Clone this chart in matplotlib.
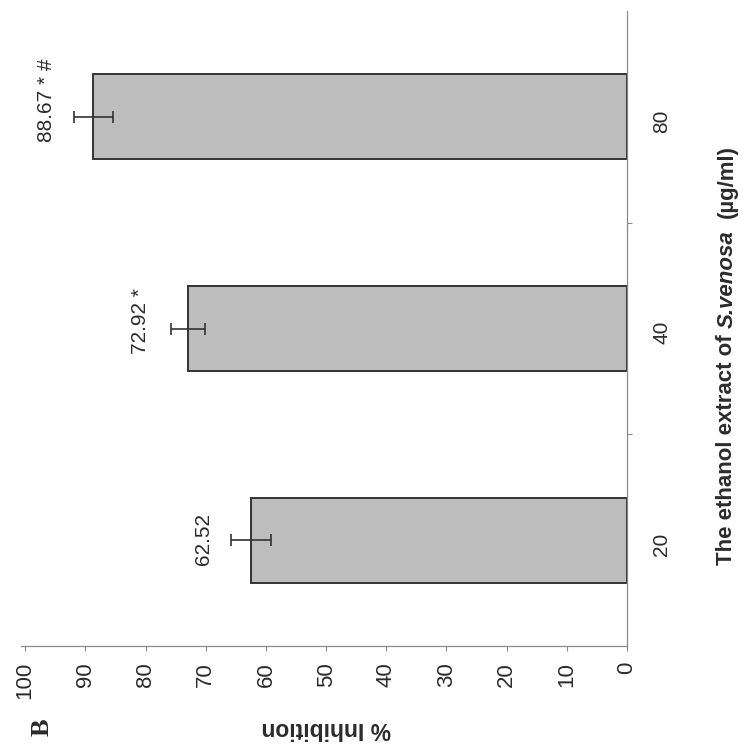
import numpy as np
import matplotlib
matplotlib.use("Agg")
import matplotlib.pyplot as plt
from matplotlib.textpath import TextPath
from matplotlib.font_manager import FontProperties

# Data: % inhibition of the ethanol extract at each concentration
concentrations = ["20", "40", "80"]
inhibition = [62.52, 72.92, 88.67]
inhibition_sd = [3.3, 2.8, 3.2]
significance = ["", " *", " * #"]
value_ticks = [0, 10, 20, 30, 40, 50, 60, 70, 80, 90, 100]

SANS = "Liberation Sans"
INK = "#2b2b2b"
AXIS_GREY = "#8a8a8a"

W, H, DPI = 742, 754, 100
fig = plt.figure(figsize=(W / DPI, H / DPI), dpi=DPI)
fig.patch.set_facecolor("white")

# Layout in pixels: value 0 sits at the right, 100 toward the left
x_right, x_left = 627, 21
y_top, y_bottom = 11, 646
ax = fig.add_axes([x_left / W, 1 - y_bottom / H,
                   (x_right - x_left) / W, (y_bottom - y_top) / H])

pos = np.arange(len(concentrations))
ax.barh(pos, inhibition, height=0.40, color="#bdbdbd",
        edgecolor="#333333", linewidth=1.4, zorder=2)
ax.errorbar(inhibition, pos, xerr=inhibition_sd, fmt="none",
            ecolor="#333333", elinewidth=1.2, capsize=4.5, capthick=1.2,
            zorder=3)

ax.set_xlim(100.7, 0)
ax.set_ylim(-0.5, 2.5)

# Spines: only the value axis (bottom) and category axis (right)
for side in ("top", "left"):
    ax.spines[side].set_visible(False)
for side in ("bottom", "right"):
    ax.spines[side].set_color(AXIS_GREY)
    ax.spines[side].set_linewidth(0.9)

ax.set_xticks(value_ticks)
ax.set_xticklabels([str(v) for v in value_ticks])
ax.tick_params(axis="x", direction="out", length=3.6, width=0.8,
               color=AXIS_GREY, pad=8, labelsize=16, labelcolor=INK,
               labelrotation=90)
for lbl in ax.get_xticklabels():
    lbl.set_family(SANS)

ax.yaxis.tick_right()
ax.set_yticks(pos)
ax.set_yticklabels(concentrations)
ax.set_yticks([0.5, 1.5], minor=True)
ax.tick_params(axis="y", which="major", length=0, pad=18, labelsize=15,
               labelcolor=INK, labelrotation=90)
ax.tick_params(axis="y", which="minor", direction="out", length=3.5,
               width=0.8, color=AXIS_GREY)
for lbl in ax.get_yticklabels():
    lbl.set_family(SANS)

# Value labels beside each bar end, the number centred on the bar
fs_val = 15
fp_val = FontProperties(family=SANS, size=fs_val)
for y, v, mark in zip(pos, inhibition, significance):
    num = f"{v:.2f}"
    num_len = TextPath((0, 0), num, size=fs_val, prop=fp_val).get_extents().width
    ax.annotate(num + mark, xy=(v, y), xytext=(-34, -num_len / 2),
                textcoords="offset points", rotation=90,
                rotation_mode="anchor", ha="left", va="center",
                fontsize=fs_val, family=SANS, color=INK, zorder=4)

# Value axis title (upside down) and panel letter
fig.text(326 / W, 1 - 729 / H, "% Inhibition", rotation=180,
         ha="center", va="center", fontsize=16.5, fontweight="bold",
         family=SANS, color=INK)
fig.text(42 / W, 1 - 727 / H, "B", rotation=90, ha="center", va="center",
         fontsize=19, fontweight="bold", family="Liberation Serif",
         color=INK)

# Category axis title, with the species name in italics
renderer = fig.canvas.get_renderer()
fs_lab = 16
pieces = [("The ethanol extract of", "normal"),
          ("S.venosa", "italic"),
          ("(\u00b5g/ml)", "normal")]
gaps = [0.278 * fs_lab * DPI / 72, 2 * 0.278 * fs_lab * DPI / 72]
texts = []
for s, st in pieces:
    t = fig.text(0, 0, s, rotation=90, rotation_mode="anchor", ha="left",
                 va="center", fontsize=fs_lab, fontweight="bold", style=st,
                 family=SANS, color=INK)
    texts.append(t)
lengths = [t.get_window_extent(renderer).height for t in texts]
total = sum(lengths) + sum(gaps)
x_c = 727
y_c = H - 355
y0 = y_c - total / 2
for i, t in enumerate(texts):
    t.set_position((x_c / W, y0 / H))
    y0 += lengths[i] + (gaps[i] if i < len(gaps) else 0)

fig.savefig("out.png", dpi=DPI, facecolor="white")
